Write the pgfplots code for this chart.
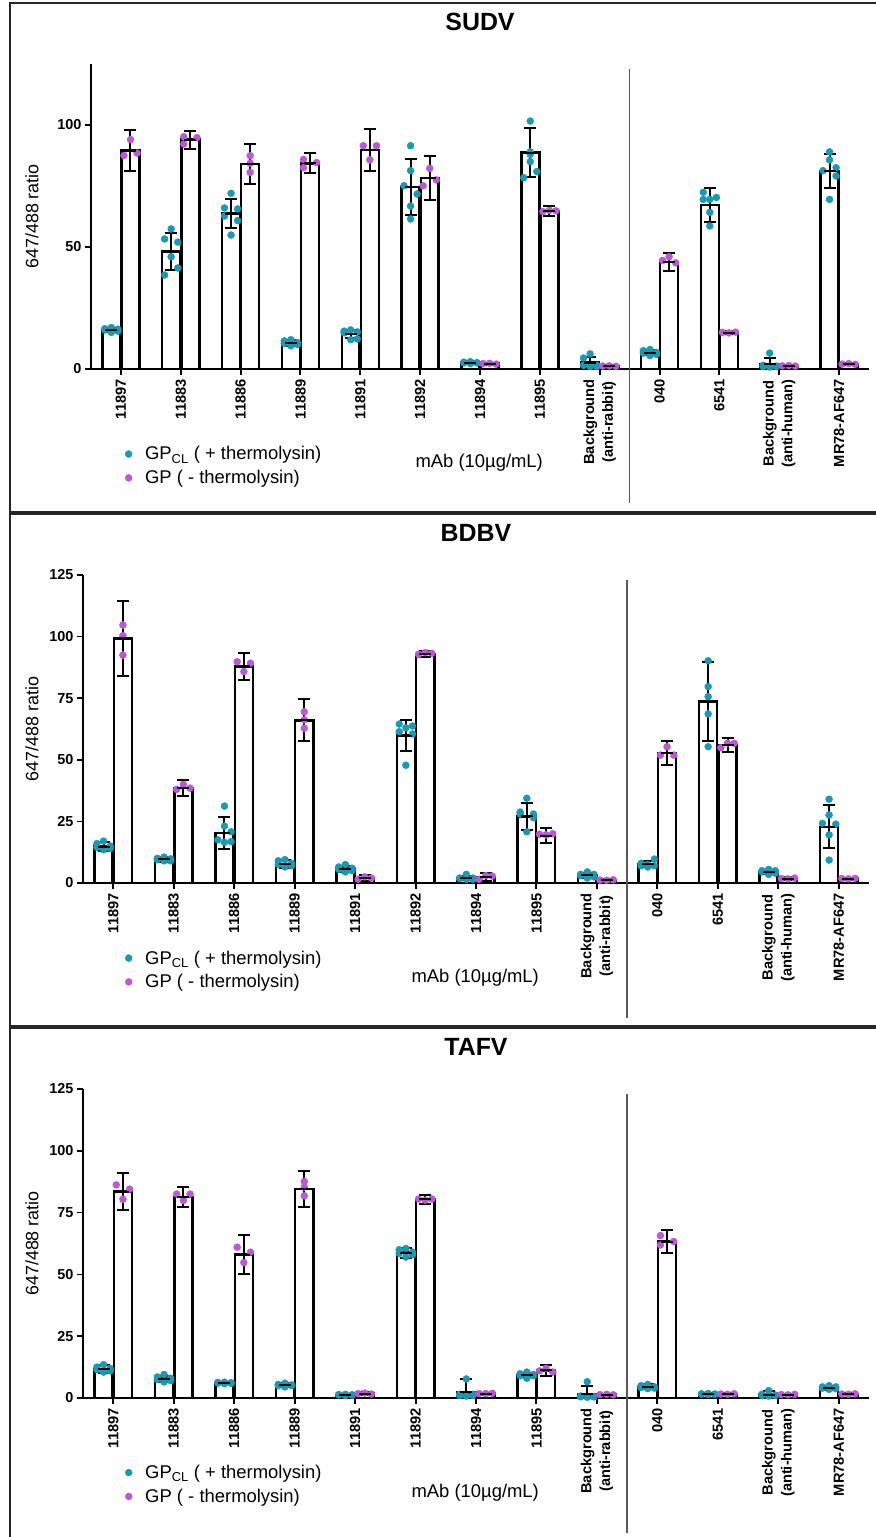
\documentclass[border=0pt]{standalone}
\usepackage{pgfplots}
\usepackage{pgfplotstable}
\pgfplotsset{compat=1.18}
\usepackage{fontspec}
\setmainfont{Liberation Sans}
\definecolor{tealc}{RGB}{24,154,178}
\definecolor{purp}{RGB}{186,88,214}

% ---------------- SUDV ----------------
\pgfplotstableread{
c y ep em
0 16.0 1.0 1.0
1 48.1 7.7 7.7
2 63.7 6.0 6.0
3 10.7 1.2 1.2
4 14.3 1.8 1.8
5 74.6 11.3 11.3
6 2.6 0.5 0.5
7 88.7 9.9 9.9
8 2.6 2.3 2.3
9 6.7 1.0 1.0
10 67.2 6.8 6.8
11 2.0 2.5 2.0
12 81.1 7.1 7.1
}\sudvT
\pgfplotstableread{
c y ep em
0 89.5 8.4 8.4
1 94.0 3.7 3.7
2 84.1 8.3 8.3
3 84.3 4.1 4.1
4 89.7 8.5 8.5
5 78.3 9.0 9.0
6 2.2 0.4 0.4
7 64.8 2.1 2.1
8 1.2 0.3 0.3
9 43.8 3.7 3.7
10 14.9 0.6 0.6
11 1.3 0.3 0.3
12 2.0 0.4 0.4
}\sudvP
\pgfplotstableread{
c j y
0 0 17.0
0 -0.11 16.5
0 0.11 16.3
0 -0.11 16.0
0 0.11 15.5
0 0 15.0
1 0 57.4
1 -0.11 53.3
1 0.11 52.0
1 0 46.0
1 0.11 41.4
1 -0.11 38.5
2 0 72.0
2 -0.11 66.0
2 0.11 65.6
2 -0.11 62.7
2 0.11 60.8
2 0 54.9
3 0 12.0
3 -0.11 11.5
3 0.11 10.8
3 -0.11 10.5
3 0.11 10.0
3 0 9.5
4 0 16.0
4 -0.11 15.5
4 0.11 15.2
4 -0.11 14.8
4 0.11 12.3
4 0 12.0
5 0 91.5
5 0 81.3
5 -0.11 75.1
5 0.11 71.7
5 0 66.8
5 0 61.5
6 0 3.0
6 -0.11 2.8
6 0.11 2.6
6 -0.11 2.5
6 0.11 2.5
6 0 2.2
7 0 101.6
7 0 89.0
7 0 88.0
7 0 85.0
7 0.11 80.9
7 -0.11 78.4
8 0 6.2
8 -0.11 4.5
8 0.11 1.5
8 -0.11 1.5
8 0.11 1.0
8 0 1.0
9 0 8.0
9 -0.11 7.5
9 0.11 6.8
9 -0.11 6.5
9 0.11 6.0
9 0 5.5
10 -0.11 72.4
10 0.11 70.3
10 -0.11 69.5
10 0 69.5
10 0 64.2
10 0 58.6
11 0 6.5
11 -0.11 1.5
11 0.11 1.2
11 -0.11 1.0
11 0.11 1.0
11 0 0.8
12 0 89.0
12 0 85.7
12 0.11 82.5
12 -0.11 81.3
12 0.11 79.1
12 0 69.5
}\sudvTp
\pgfplotstableread{
c j y
0 -0.11 87.5
0 0 94.0
0 0.11 88.5
1 -0.11 95.2
1 -0.11 92.2
1 0.11 94.8
2 0 87.4
2 0 84.3
2 0 80.6
3 -0.11 85.9
3 -0.11 82.5
3 0.11 84.6
4 -0.11 91.5
4 0 85.7
4 0.11 91.5
5 -0.11 75.1
5 0 82.2
5 0.11 77.5
6 -0.11 2.2
6 0 2.3
6 0.11 2.0
7 -0.11 64.5
7 0 65.0
7 0.11 64.8
8 -0.11 1.2
8 0 1.3
8 0.11 1.1
9 -0.11 44.5
9 0 46.0
9 0.11 43.5
10 -0.11 15.0
10 0 14.8
10 0.11 15.1
11 -0.11 1.3
11 0 1.4
11 0.11 1.2
12 -0.11 2.0
12 0 2.2
12 0.11 1.9
}\sudvPp

% ---------------- BDBV ----------------
\pgfplotstableread{
c y ep em
0 14.8 1.8 1.8
1 9.6 1.0 1.0
2 20.2 6.4 6.4
3 7.8 1.6 1.6
4 5.8 1.2 1.2
5 59.8 6.4 6.4
6 2.0 0.9 0.9
7 27.0 5.3 5.3
8 3.2 1.0 1.0
9 7.6 1.2 1.2
10 73.6 16.0 16.0
11 4.6 0.8 0.8
12 22.8 8.8 8.8
}\bdbvT
\pgfplotstableread{
c y ep em
0 99.3 15.2 15.2
1 38.6 3.2 3.2
2 87.9 5.5 5.5
3 66.0 8.5 8.5
4 2.0 1.3 1.3
5 93.0 1.3 1.3
6 2.5 1.5 1.5
7 19.2 3.0 3.0
8 1.2 0.3 0.3
9 52.8 4.8 4.8
10 56.0 2.7 2.7
11 1.8 0.5 0.5
12 1.8 0.4 0.4
}\bdbvP
\pgfplotstableread{
c j y
0 0 17.0
0 -0.11 16.0
0 0.11 15.0
0 -0.11 14.5
0 0.11 14.0
0 0 13.5
1 0 10.5
1 -0.11 10.0
1 0.11 9.8
1 -0.11 9.5
1 0.11 9.0
1 0 9.0
2 0 31.2
2 0 23.1
2 0.11 20.8
2 -0.11 17.5
2 0.11 16.8
2 0 16.5
3 0 9.5
3 -0.11 9.0
3 0.11 8.0
3 -0.11 7.5
3 0.11 7.0
3 0 6.5
4 0 7.5
4 -0.11 6.5
4 0.11 6.0
4 -0.11 5.5
4 0.11 5.0
4 0 4.5
5 -0.11 64.5
5 0.11 63.7
5 0 63.0
5 -0.11 61.4
5 0.11 60.5
5 0 47.8
6 0 3.5
6 -0.11 2.0
6 0.11 2.0
6 -0.11 1.8
6 0.11 1.5
6 0 1.5
7 0 34.4
7 -0.11 28.8
7 0.11 28.0
7 -0.11 28.0
7 0.11 26.5
7 0 20.8
8 0 4.5
8 -0.11 3.5
8 0.11 3.5
8 -0.11 3.0
8 0.11 2.5
8 0 2.0
9 0.11 9.7
9 -0.11 8.0
9 0 7.5
9 -0.11 7.0
9 0.11 7.0
9 0 6.5
10 0 90.2
10 0 79.7
10 0 75.6
10 0 68.6
10 0 55.3
11 0 5.5
11 -0.11 5.0
11 0.11 5.0
11 -0.11 4.5
11 0.11 4.0
11 0 3.5
12 0 34.0
12 0 27.6
12 -0.11 24.2
12 0.11 23.9
12 0 19.5
12 0 9.3
}\bdbvTp
\pgfplotstableread{
c j y
0 0 104.7
0 0 100.4
0 0 92.5
1 -0.11 38.0
1 0 40.0
1 0.11 38.5
2 -0.11 89.8
2 0 85.8
2 0.11 89.2
3 0 69.5
3 0 66.2
3 0 62.8
4 -0.11 1.5
4 0 2.5
4 0.11 2.0
5 -0.11 92.8
5 0 93.5
5 0.11 93.2
6 -0.11 1.5
6 0 3.0
6 0.11 2.8
7 -0.11 19.8
7 0 19.5
7 0.11 20.0
8 -0.11 1.2
8 0 1.1
8 0.11 1.3
9 -0.11 51.9
9 0 55.3
9 0.11 51.9
10 -0.11 54.9
10 0 56.7
10 0.11 56.7
11 -0.11 1.8
11 0 1.7
11 0.11 2.0
12 -0.11 1.8
12 0 1.7
12 0.11 1.9
}\bdbvPp

% ---------------- TAFV ----------------
\pgfplotstableread{
c y ep em
0 11.7 1.6 1.6
1 7.8 1.2 1.2
2 6.1 0.4 0.4
3 5.2 0.8 0.8
4 1.3 0.3 0.3
5 58.8 2.0 2.0
6 2.3 5.4 2.3
7 9.3 1.0 1.0
8 1.5 3.4 1.5
9 4.5 1.0 1.0
10 1.6 0.3 0.3
11 1.4 1.5 1.4
12 4.2 0.8 0.8
}\tafvT
\pgfplotstableread{
c y ep em
0 83.5 7.5 7.5
1 81.3 4.0 4.0
2 58.0 7.8 7.8
3 84.5 7.3 7.3
4 1.8 0.5 0.5
5 80.3 1.8 1.8
6 1.8 0.4 0.4
7 11.2 2.1 2.1
8 1.4 0.4 0.4
9 63.3 4.6 4.6
10 1.6 0.3 0.3
11 1.4 0.3 0.3
12 1.6 0.4 0.4
}\tafvP
\pgfplotstableread{
c j y
0 0 13.5
0 -0.11 12.5
0 0.11 12.0
0 -0.11 11.5
0 0.11 11.0
0 0 10.5
1 0 9.5
1 -0.11 8.5
1 0.11 8.0
1 -0.11 7.5
1 0.11 7.0
1 0 6.5
2 0 6.4
2 -0.11 6.3
2 0.11 6.2
2 -0.11 6.0
2 0.11 5.9
2 0 5.8
3 0 6.0
3 -0.11 5.5
3 0.11 5.3
3 -0.11 5.0
3 0.11 5.0
3 0 4.5
4 0 1.5
4 -0.11 1.4
4 0.11 1.3
4 -0.11 1.3
4 0.11 1.2
4 0 1.0
5 0 60.5
5 -0.11 60.0
5 0.11 59.0
5 -0.11 58.5
5 0.11 58.0
5 0 57.0
6 0 7.7
6 -0.11 1.5
6 0.11 1.5
6 -0.11 1.0
6 0.11 1.0
6 0 0.8
7 0 10.5
7 -0.11 9.8
7 0.11 9.5
7 -0.11 9.0
7 0.11 9.0
7 0 8.0
8 0 6.6
8 -0.11 0.8
8 0.11 0.5
8 -0.11 0.5
8 0.11 0.5
8 0 0.3
9 0 5.5
9 -0.11 5.0
9 0.11 4.5
9 -0.11 4.2
9 0.11 4.0
9 0 3.8
10 0 1.8
10 -0.11 1.7
10 0.11 1.6
10 -0.11 1.6
10 0.11 1.5
10 0 1.4
11 0 3.0
11 -0.11 1.5
11 0.11 1.2
11 -0.11 1.0
11 0.11 1.0
11 0 0.8
12 0 5.0
12 -0.11 4.5
12 0.11 4.5
12 -0.11 4.0
12 0.11 3.8
12 0 3.5
}\tafvTp
\pgfplotstableread{
c j y
0 -0.11 86.2
0 0 80.4
0 0.11 84.5
1 -0.11 82.5
1 0 79.9
1 0.11 82.5
2 -0.11 61.0
2 0 54.8
2 0.11 59.0
3 0 87.6
3 0 85.3
3 0 81.8
4 -0.11 1.8
4 0 2.0
4 0.11 1.6
5 -0.11 80.5
5 0 80.0
5 0.11 80.5
6 -0.11 1.8
6 0 1.8
6 0.11 1.9
7 -0.11 11.0
7 0 12.0
7 0.11 10.5
8 -0.11 1.4
8 0 1.5
8 0.11 1.3
9 -0.11 65.7
9 -0.11 61.9
9 0.11 63.3
10 -0.11 1.6
10 0 1.5
10 0.11 1.7
11 -0.11 1.4
11 0 1.3
11 0.11 1.5
12 -0.11 1.6
12 0 1.5
12 0.11 1.7
}\tafvPp

\newcommand{\xtfont}{\bfseries\fontsize{14.7}{19}\selectfont}
\pgfplotsset{
  panel/.style={
    scale only axis, xmin=-0.5, xmax=12.5, ymin=0, ymax=125,
    axis x line*=bottom, axis y line*=left,
    axis line style={-, black},
    x axis line style={line width=2bp},
    y axis line style={line width=1.5bp},
    clip=false, tick align=outside, major tick length=6bp,
    xtick={0,...,12},
    xtick style={line width=2bp, black},
    ytick style={line width=1.5bp, black},
    xticklabels={11897,11883,11886,11889,11891,11892,11894,11895,{Background\\(anti-rabbit)},040,6541,{Background\\(anti-human)},MR78-AF647},
    xticklabel style={rotate=90, anchor=east, align=center, font=\xtfont, inner sep=0pt},
    xticklabel shift=4bp,
    yticklabel style={font=\bfseries\fontsize{14.5}{14.5}\selectfont},
    /pgf/number format/assume math mode=true,
    ylabel={647/488 ratio},
    ylabel style={font=\fontsize{18}{18}\selectfont, anchor=center},
    title style={font=\bfseries\fontsize{25}{25}\selectfont, at={(axis description cs:0.5,1.118)}, anchor=center},
    legend style={draw=none, fill=none, anchor=west, font=\fontsize{18.5}{20}\selectfont, row sep=5bp, inner sep=0pt,
      /tikz/every odd column/.append style={column sep=11bp}},
    legend cell align=left,
  },
}

\newcommand{\bars}[2]{%
  \addplot[ybar, bar width=0.3, bar shift=0pt, fill=white, draw=black, line width=2.5bp, forget plot]
    table[x expr=\thisrow{c}#2, y=y] {#1};}
\newcommand{\pts}[3]{%
  \addplot[only marks, mark=*, mark size=3.5bp, color=#3, forget plot]
    table[x expr=\thisrow{c}#2+\thisrow{j}, y=y] {#1};}
\newcommand{\errs}[2]{%
  \addplot[black, only marks, mark=-, mark size=6bp, mark options={line width=2bp}, forget plot,
    error bars/.cd, y dir=both, y explicit,
    error bar style={line width=2bp, black},
    error mark=-,
    error mark options={rotate=90, line width=2bp, mark size=6bp, black}]
    table[x expr=\thisrow{c}#2, y=y, y error plus=ep, y error minus=em] {#1};}
\newcommand{\legendandtext}{%
  \addlegendimage{only marks, mark=*, mark size=3.5bp, tealc}
  \addlegendentry{GP\textsubscript{CL} ( + thermolysin)}
  \addlegendimage{only marks, mark=*, mark size=3.5bp, purp}
  \addlegendentry{GP ( - thermolysin)}
  \node[font=\fontsize{18.5}{20}\selectfont] at (axis description cs:0.499,-0.308) {mAb (10µg/mL)};
  \draw[line width=1.5bp, black!65] (axis cs:8.5,123) -- (axis cs:8.5,-54.8);}

\begin{document}
\begin{tikzpicture}[x=1bp, y=1bp]
\useasboundingbox (0,0) rectangle (876bp,1537bp);

% Panel 1: SUDV
\begin{axis}[panel, at={(91bp,1168bp)}, anchor=south west, width=778bp, height=305bp,
  ytick={0,50,100}, title={SUDV},
  ylabel style={at={(axis description cs:-0.0758,0.5)}},
  legend style={at={(axis description cs:0.0436,-0.318)}}]
  \legendandtext
  \bars{\sudvT}{-0.16}
  \bars{\sudvP}{+0.16}
  \pts{\sudvTp}{-0.16}{tealc}
  \pts{\sudvPp}{+0.16}{purp}
  \errs{\sudvT}{-0.16}
  \errs{\sudvP}{+0.16}
\end{axis}

% Panel 2: BDBV
\begin{axis}[panel, at={(83bp,654bp)}, anchor=south west, width=786bp, height=308bp,
  ytick={0,25,50,75,100,125}, title={BDBV},
  ylabel style={at={(axis description cs:-0.0649,0.5)}},
  legend style={at={(axis description cs:0.0535,-0.2825)}}]
  \legendandtext
  \bars{\bdbvT}{-0.16}
  \bars{\bdbvP}{+0.16}
  \pts{\bdbvTp}{-0.16}{tealc}
  \pts{\bdbvPp}{+0.16}{purp}
  \errs{\bdbvT}{-0.16}
  \errs{\bdbvP}{+0.16}
\end{axis}

% Panel 3: TAFV
\begin{axis}[panel, at={(83bp,139bp)}, anchor=south west, width=786bp, height=309bp,
  ytick={0,25,50,75,100,125}, title={TAFV},
  ylabel style={at={(axis description cs:-0.0649,0.5)}},
  legend style={at={(axis description cs:0.0535,-0.28)}}]
  \legendandtext
  \bars{\tafvT}{-0.16}
  \bars{\tafvP}{+0.16}
  \pts{\tafvTp}{-0.16}{tealc}
  \pts{\tafvPp}{+0.16}{purp}
  \errs{\tafvT}{-0.16}
  \errs{\tafvP}{+0.16}
\end{axis}

% panel frames
\draw[line width=2bp, black!85] (10bp,1534bp) rectangle (882bp,1025bp);
\draw[line width=2bp, black!85] (10bp,1023bp) rectangle (882bp,511bp);
\draw[line width=2bp, black!85] (10bp,509bp) rectangle (882bp,-10bp);
\end{tikzpicture}
\end{document}
